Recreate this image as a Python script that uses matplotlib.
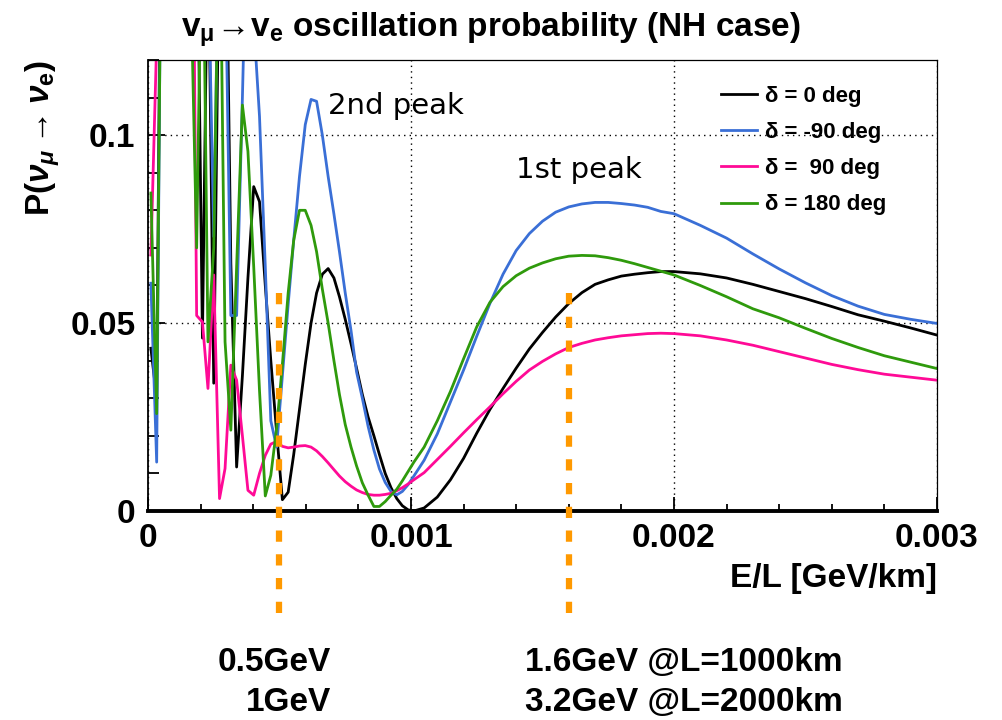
import matplotlib
matplotlib.use("Agg")
import matplotlib.pyplot as plt
from matplotlib.ticker import FixedLocator, FixedFormatter, MultipleLocator

plt.rcParams["font.family"] = ["Liberation Sans", "DejaVu Sans"]
plt.rcParams["font.weight"] = "bold"
plt.rcParams["mathtext.fontset"] = "custom"
plt.rcParams["mathtext.rm"] = "Liberation Sans:bold"
plt.rcParams["mathtext.bf"] = "Liberation Sans:bold"
plt.rcParams["mathtext.it"] = "Liberation Sans:italic"

# E/L sample points, in 1e-6 GeV/km (fine steps where the curves oscillate fast)
x_micro = [11, 33, 54, 76, 98, 120, 141, 163, 185, 207, 228, 250, 272, 293, 315,
           337, 359, 380, 402, 424, 446, 467, 489, 511, 533, 554, 576, 598, 620,
           641, 663, 685, 707, 728, 750, 772, 793, 815, 837, 859, 880, 902, 924,
           946, 967, 989, 1011,
           1050, 1100, 1150, 1200, 1250, 1300, 1350, 1400, 1450, 1500, 1550, 1600,
           1650, 1700, 1750, 1800, 1850, 1900, 1950, 2000,
           2100, 2200, 2300, 2400, 2500, 2600, 2700, 2800, 2900, 3000]

# P(numu -> nue), values above 0.12 lie outside the frame
prob_d0 = [0.0433, 0.030, 0.21, 0.30, 0.38, 0.36, 0.30, 0.22, 0.17, 0.046, 0.16,
           0.034, 0.16, 0.18, 0.066, 0.0117, 0.036, 0.062, 0.0863, 0.0823, 0.060,
           0.040, 0.021, 0.003, 0.005, 0.015, 0.027, 0.039, 0.050, 0.058, 0.063,
           0.0645, 0.062, 0.057, 0.051, 0.0445, 0.038, 0.031, 0.025, 0.020, 0.015,
           0.010, 0.0062, 0.0033, 0.0014, 0.0003, 0.0,
           0.0008, 0.0037, 0.0083, 0.0140, 0.0207, 0.0270, 0.0326, 0.038, 0.0431,
           0.0475, 0.0516, 0.0552, 0.0581, 0.0603, 0.0615, 0.0625, 0.063, 0.0634,
           0.0637, 0.0637,
           0.0631, 0.062, 0.0603, 0.0584, 0.0565, 0.0544, 0.0522, 0.0505, 0.0487, 0.0468]

prob_dm90 = [0.0606, 0.013, 0.20, 0.32, 0.40, 0.38, 0.30, 0.24, 0.20, 0.17, 0.15,
             0.073, 0.17, 0.15, 0.052, 0.052, 0.11, 0.17, 0.13, 0.105, 0.065, 0.024,
             0.017, 0.036, 0.055, 0.072, 0.089, 0.1028, 0.1095, 0.109, 0.100, 0.089,
             0.079, 0.069, 0.058, 0.048, 0.037, 0.030, 0.0225, 0.0162, 0.0112,
             0.0076, 0.0052, 0.0043, 0.0052, 0.007, 0.0093,
             0.0135, 0.0205, 0.029, 0.0375, 0.0465, 0.0552, 0.063, 0.0693, 0.0738,
             0.0771, 0.0795, 0.0809, 0.0817, 0.0821, 0.0821, 0.0818, 0.0814, 0.0808,
             0.0797, 0.0791,
             0.076, 0.0726, 0.0684, 0.0644, 0.0607, 0.0573, 0.0545, 0.0523, 0.051, 0.0499]

prob_d90 = [0.0681, 0.125, 0.30, 0.40, 0.42, 0.38, 0.32, 0.23, 0.052, 0.0503, 0.0326,
            0.0628, 0.0033, 0.0113, 0.0388, 0.0348, 0.020, 0.0055, 0.0042, 0.010,
            0.0148, 0.0178, 0.0185, 0.0172, 0.0168, 0.0170, 0.0173, 0.0174, 0.0170,
            0.0160, 0.0145, 0.0128, 0.0110, 0.0093, 0.0078, 0.0066, 0.0056, 0.0049,
            0.0044, 0.0042, 0.0042, 0.0044, 0.0047, 0.0054, 0.0062, 0.0072, 0.0083,
            0.0102, 0.0137, 0.0172, 0.0208, 0.0243, 0.0277, 0.0312, 0.0345, 0.0375,
            0.0398, 0.0418, 0.0435, 0.0446, 0.0455, 0.0461, 0.0466, 0.0469, 0.0472,
            0.0473, 0.0472,
            0.0466, 0.0455, 0.0441, 0.0424, 0.0407, 0.039, 0.0376, 0.0364, 0.0356, 0.0348]

prob_d180 = [0.0846, 0.0259, 0.19, 0.30, 0.36, 0.33, 0.26, 0.14, 0.070, 0.17, 0.045,
             0.070, 0.17, 0.045, 0.0215, 0.065, 0.108, 0.0957, 0.065, 0.032, 0.004,
             0.0095, 0.022, 0.039, 0.058, 0.072, 0.080, 0.080, 0.076, 0.069, 0.059,
             0.050, 0.040, 0.031, 0.023, 0.017, 0.012, 0.0075, 0.0042, 0.0012, 0.0012,
             0.0025, 0.0042, 0.0058, 0.008, 0.0105, 0.013,
             0.017, 0.024, 0.0318, 0.0405, 0.0490, 0.0555, 0.0597, 0.0626, 0.0646,
             0.066, 0.0671, 0.0678, 0.068, 0.0679, 0.0674, 0.0667, 0.0658, 0.0648,
             0.0638, 0.0628,
             0.060, 0.057, 0.0538, 0.0514, 0.0486, 0.0459, 0.0435, 0.0413, 0.0396, 0.0379]

series = [
    (prob_d0, "black", "\u03b4 = 0 deg"),
    (prob_dm90, "#3a6fd6", "\u03b4 = -90 deg"),
    (prob_d90, "#ff0a96", "\u03b4 =  90 deg"),
    (prob_d180, "#2f9a0c", "\u03b4 = 180 deg"),
]

x_ticks = [0, 0.001, 0.002, 0.003]
x_tick_labels = ["0", "0.001", "0.002", "0.003"]
y_ticks = [0, 0.05, 0.1]
y_tick_labels = ["0", "0.05", "0.1"]

energy_marks = [0.0005, 0.0016]
mark_top, mark_bottom = 0.058, -0.028

e_over_l = [v * 1e-6 for v in x_micro]

fig = plt.figure(figsize=(10.02, 7.2), dpi=100)
ax = fig.add_axes([0.1477, 0.2903, 0.7874, 0.6264])

for probs, color, label in series:
    ax.plot(e_over_l, probs, color=color, lw=2.0, label=label)

ax.set_xlim(0, 0.003)
ax.set_ylim(0, 0.12)

ax.xaxis.set_major_locator(FixedLocator(x_ticks))
ax.xaxis.set_major_formatter(FixedFormatter(x_tick_labels))
ax.xaxis.set_minor_locator(MultipleLocator(0.0002))
ax.yaxis.set_major_locator(FixedLocator(y_ticks))
ax.yaxis.set_major_formatter(FixedFormatter(y_tick_labels))
ax.yaxis.set_minor_locator(MultipleLocator(0.01))

ax.tick_params(which="both", direction="in", top=False, right=False,
               labelsize=24, pad=9, width=1.3)
ax.tick_params(axis="x", which="major", length=10)
ax.tick_params(axis="x", which="minor", length=5)
ax.tick_params(axis="y", which="major", length=12)
ax.tick_params(axis="y", which="minor", length=8)

ax.grid(True, which="major", color="black", lw=1.0, ls=(0, (1, 3)))
ax.spines["bottom"].set_linewidth(2.8)
ax.spines["left"].set_linewidth(1.3)
ax.spines["top"].set_linewidth(0.9)
ax.spines["right"].set_linewidth(0.9)

ax.set_xlabel("E/L [GeV/km]", fontsize=24, fontweight="bold", loc="right",
              labelpad=6)

leg = ax.legend(loc="upper left", bbox_to_anchor=(0.715, 0.962), frameon=False,
                fontsize=16, handlelength=1.6, handletextpad=0.4,
                labelspacing=0.68, borderaxespad=0)

ax.text(0.000684, 0.1055, "2nd peak", fontsize=21, fontweight="normal",
        family="DejaVu Sans")
ax.text(0.0014, 0.0887, "1st peak", fontsize=21, fontweight="normal",
        family="DejaVu Sans")

for xm in energy_marks:
    ax.plot([xm, xm], [mark_top, mark_bottom], color="#ff9900", lw=4.5,
            dashes=(1.8, 2.0), solid_capstyle="butt", dash_capstyle="butt",
            clip_on=False, zorder=5)

fig.text(0.49, 0.958,
         r"$\mathbf{v}_{\mathbf{\mu}}\!\rightarrow\!\mathbf{v}_{\mathbf{e}}$"
         " oscillation probability (NH case)",
         ha="center", va="center", fontsize=24)
fig.text(0.043, 0.917,
         r"$\mathbf{P(}\nu_{\mu}\rightarrow\nu_{\mathbf{e}}\mathbf{)}$",
         rotation=90, ha="center", va="top", fontsize=24)

fig.text(0.330, 0.080, "0.5GeV", ha="right", va="center", fontsize=24)
fig.text(0.330, 0.024, "1GeV", ha="right", va="center", fontsize=24)
fig.text(0.524, 0.080, "1.6GeV @L=1000km", ha="left", va="center", fontsize=24)
fig.text(0.524, 0.024, "3.2GeV @L=2000km", ha="left", va="center", fontsize=24)

fig.savefig("out.png", dpi=100)
